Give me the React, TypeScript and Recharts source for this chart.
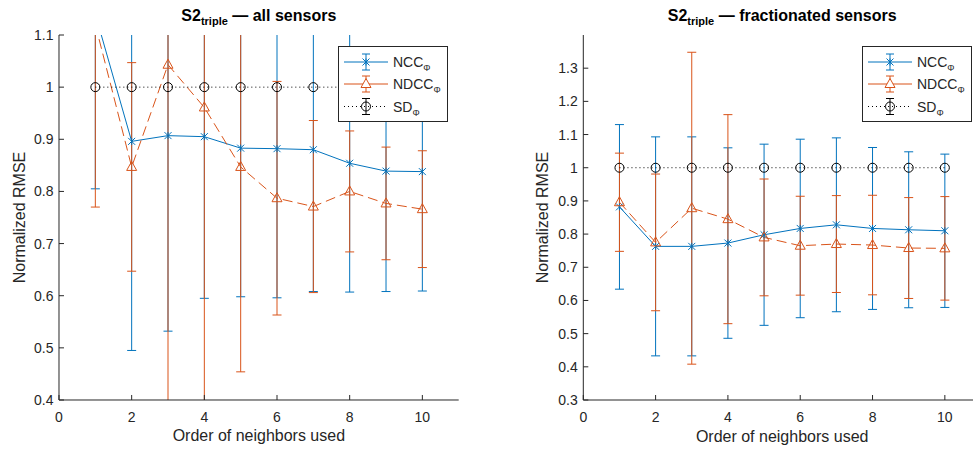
import React from 'react';
import { ComposedChart, Line, XAxis, YAxis, ErrorBar } from 'recharts';

const BLUE = '#0072BD';
const ORANGE = '#D95319';
const INK = '#262626';
const FONT = '"Liberation Sans", Arial, Helvetica, sans-serif';

const orders = [1, 2, 3, 4, 5, 6, 7, 8, 9, 10];
const xTicks = [0, 2, 4, 6, 8, 10];

// S2 triple - all sensors (value and +/- std)
const allNcc = [1.14, 0.896, 0.907, 0.905, 0.883, 0.882, 0.88, 0.854, 0.839, 0.838];
const allNccStd = [0.335, 0.401, 0.375, 0.31, 0.285, 0.286, 0.272, 0.247, 0.231, 0.229];
const allNdcc = [1.12, 0.847, 1.043, 0.961, 0.847, 0.787, 0.771, 0.8, 0.777, 0.766];
const allNdccStd = [0.35, 0.2, 0.7, 0.6, 0.393, 0.224, 0.165, 0.116, 0.108, 0.112];
const allSd = [1, 1, 1, 1, 1, 1, 1, 1, 1, 1];
const allSdStd = [0, 0, 0, 0, 0, 0, 0, 0, 0, 0];
const allYTicks = [0.4, 0.5, 0.6, 0.7, 0.8, 0.9, 1, 1.1];

// S2 triple - fractionated sensors
const fracNcc = [0.882, 0.763, 0.763, 0.773, 0.798, 0.817, 0.828, 0.817, 0.813, 0.81];
const fracNccStd = [0.248, 0.33, 0.33, 0.287, 0.273, 0.269, 0.262, 0.244, 0.235, 0.231];
const fracNdcc = [0.896, 0.775, 0.878, 0.845, 0.79, 0.765, 0.77, 0.767, 0.758, 0.757];
const fracNdccStd = [0.148, 0.206, 0.47, 0.315, 0.176, 0.149, 0.146, 0.15, 0.152, 0.156];
const fracSd = [1, 1, 1, 1, 1, 1, 1, 1, 1, 1];
const fracSdStd = [0, 0, 0, 0, 0, 0, 0, 0, 0, 0];
const fracYTicks = [0.3, 0.4, 0.5, 0.6, 0.7, 0.8, 0.9, 1, 1.1, 1.2, 1.3];

const buildRows = (
  ncc: number[],
  nccStd: number[],
  ndcc: number[],
  ndccStd: number[],
  sd: number[],
  sdStd: number[],
) =>
  orders.map((order, i) => ({
    order,
    ncc: ncc[i],
    nccStd: nccStd[i],
    ndcc: ndcc[i],
    ndccStd: ndccStd[i],
    sd: sd[i],
    sdStd: sdStd[i],
  }));

const allRows = buildRows(allNcc, allNccStd, allNdcc, allNdccStd, allSd, allSdStd);
const fracRows = buildRows(fracNcc, fracNccStd, fracNdcc, fracNdccStd, fracSd, fracSdStd);

const starPath = (cx: number, cy: number, s = 3.5) =>
  `M${cx - s},${cy - s}L${cx + s},${cy + s}M${cx - s},${cy + s}L${cx + s},${cy - s}M${cx},${cy - s}L${cx},${cy + s}`;
const triPath = (cx: number, cy: number) =>
  `M${cx},${cy - 5.5}L${cx + 5},${cy + 3.5}L${cx - 5},${cy + 3.5}Z`;

const StarDot = (p: any) => {
  if (p.cx == null || p.cy == null) return <g key={p.index} />;
  return <path key={p.index} d={starPath(p.cx, p.cy)} stroke={BLUE} fill="none" />;
};
const TriDot = (p: any) => {
  if (p.cx == null || p.cy == null) return <g key={p.index} />;
  return <path key={p.index} d={triPath(p.cx, p.cy)} stroke={ORANGE} fill="none" />;
};
const CircleDot = (p: any) => {
  if (p.cx == null || p.cy == null) return <g key={p.index} />;
  return <circle key={p.index} cx={p.cx} cy={p.cy} r={4.5} stroke="#000" fill="none" />;
};

const yLabel = (gap: number) => (props: any) => {
  const vb = props.viewBox;
  const cx = vb.x + vb.width - gap;
  const cy = vb.y + vb.height / 2;
  return (
    <text
      x={cx}
      y={cy}
      transform={`rotate(-90 ${cx} ${cy})`}
      textAnchor="middle"
      dominantBaseline="central"
      fill={INK}
      fontSize={16}
      fontFamily={FONT}
    >
      Normalized RMSE
    </text>
  );
};

const xLabel = (props: any) => {
  const vb = props.viewBox;
  return (
    <text x={vb.x + vb.width / 2} y={vb.y + 41.5} textAnchor="middle" fill={INK} fontSize={16} fontFamily={FONT}>
      Order of neighbors used
    </text>
  );
};

const LegendBox = ({ left }: { left: number }) => {
  const items = [
    { name: 'NCC', color: BLUE, dash: undefined, y: 16, marker: 'star' },
    { name: 'NDCC', color: ORANGE, dash: undefined, y: 38, marker: 'tri' },
    { name: 'SD', color: '#000', dash: '1 3', y: 60.5, marker: 'circle' },
  ];
  return (
    <svg style={{ position: 'absolute', left, top: 46 }} width={110} height={76}>
      <rect x={0.5} y={0.5} width={109} height={75} fill="#fff" stroke={INK} />
      {items.map((it) => (
        <g key={it.name}>
          <line x1={6} x2={50} y1={it.y} y2={it.y} stroke={it.color} strokeDasharray={it.dash} />
          <line x1={28} x2={28} y1={it.y - 8} y2={it.y + 8} stroke={it.color} />
          <line x1={24} x2={32} y1={it.y - 8} y2={it.y - 8} stroke={it.color} />
          <line x1={24} x2={32} y1={it.y + 8} y2={it.y + 8} stroke={it.color} />
          {it.marker === 'star' && <path d={starPath(28, it.y)} stroke={it.color} fill="none" />}
          {it.marker === 'tri' && <path d={triPath(28, it.y)} stroke={it.color} fill="#fff" />}
          {it.marker === 'circle' && <circle cx={28} cy={it.y} r={4.5} stroke={it.color} fill="none" />}
          <text x={55} y={it.y + 5} fill={INK} fontSize={14} fontFamily={FONT}>
            {it.name}
            <tspan fontSize={9} dy={4}>Φ</tspan>
          </text>
        </g>
      ))}
    </svg>
  );
};

type PanelProps = {
  id: string;
  rest: string;
  rows: any[];
  yDomain: [number, number];
  yTicks: number[];
  axisWidth: number;
  plotWidth: number;
  labelGap: number;
  legendLeft: number;
};

const Panel = ({ id, rest, rows, yDomain, yTicks, axisWidth, plotWidth, labelGap, legendLeft }: PanelProps) => {
  const width = axisWidth + plotWidth + 10;
  const tickStyle = { fill: INK, fontSize: 14, fontFamily: FONT };
  const clipId = `errclip-${id}`;
  return (
    <div className={`panel-${id}`} style={{ position: 'relative', width, height: 452 }}>
      {/* error bars are not clipped by recharts, so clip them to the plot box */}
      <style>{`.panel-${id} .recharts-errorBars, .panel-${id} .recharts-errorBar { clip-path: url(#${clipId}); }`}</style>
      <svg style={{ position: 'absolute', left: 0, top: 0 }} width={0} height={0}>
        <defs>
          <clipPath id={clipId} clipPathUnits="userSpaceOnUse">
            <rect x={axisWidth} y={35} width={plotWidth} height={365} />
          </clipPath>
        </defs>
      </svg>
      <ComposedChart width={width} height={452} data={rows} margin={{ top: 35, right: 10, bottom: 0, left: 0 }}>
        <XAxis
          dataKey="order"
          type="number"
          domain={[0, 11]}
          ticks={xTicks}
          allowDataOverflow
          height={52}
          stroke={INK}
          tickSize={-5}
          tickMargin={17.5}
          tick={tickStyle}
          label={{ content: xLabel }}
        />
        <XAxis
          xAxisId="top"
          orientation="top"
          dataKey="order"
          type="number"
          domain={[0, 11]}
          ticks={xTicks}
          allowDataOverflow
          height={0}
          stroke={INK}
          tickSize={-5}
          tick={false}
        />
        <YAxis
          type="number"
          domain={yDomain}
          ticks={yTicks}
          allowDataOverflow
          width={axisWidth}
          stroke={INK}
          tickSize={-5}
          tickMargin={10.5}
          tick={tickStyle}
          label={{ content: yLabel(labelGap) }}
        />
        <YAxis
          yAxisId="right"
          orientation="right"
          type="number"
          domain={yDomain}
          ticks={yTicks}
          allowDataOverflow
          width={0}
          stroke={INK}
          tickSize={-5}
          tick={false}
        />
        <Line dataKey="ncc" stroke={BLUE} strokeWidth={1} dot={StarDot} activeDot={false} isAnimationActive={false}>
          <ErrorBar dataKey="nccStd" direction="y" width={4.5} stroke={BLUE} strokeWidth={1} />
        </Line>
        <Line
          dataKey="ndcc"
          stroke={ORANGE}
          strokeWidth={1}
          strokeDasharray="10 5"
          dot={TriDot}
          activeDot={false}
          isAnimationActive={false}
        >
          <ErrorBar dataKey="ndccStd" direction="y" width={4.5} stroke={ORANGE} strokeWidth={1} />
        </Line>
        <Line
          dataKey="sd"
          stroke="#000"
          strokeWidth={1}
          strokeDasharray="1 3"
          dot={CircleDot}
          activeDot={false}
          isAnimationActive={false}
        >
          <ErrorBar dataKey="sdStd" direction="y" width={5} stroke="#000" strokeWidth={1} />
        </Line>
      </ComposedChart>
      <svg style={{ position: 'absolute', left: 0, top: 0 }} width={width} height={32}>
        <text
          x={axisWidth + plotWidth / 2}
          y={21}
          textAnchor="middle"
          fill="#000"
          fontSize={16}
          fontWeight="bold"
          fontFamily={FONT}
        >
          S2
          <tspan fontSize={11} dy={4}>triple</tspan>
          <tspan dy={-4}>{` — ${rest}`}</tspan>
        </text>
      </svg>
      <LegendBox left={legendLeft} />
    </div>
  );
};

export default function App() {
  return (
    <div
      style={{
        position: 'absolute',
        left: 0,
        top: 0,
        width: 973,
        height: 452,
        overflow: 'hidden',
        background: '#fff',
        fontFamily: FONT,
      }}
    >
      <div style={{ position: 'absolute', left: 0, top: 0 }}>
        <Panel
          id="all"
          rest="all sensors"
          rows={allRows}
          yDomain={[0.4, 1.1]}
          yTicks={allYTicks}
          axisWidth={59}
          plotWidth={399.7}
          labelGap={39.5}
          legendLeft={338}
        />
      </div>
      <div style={{ position: 'absolute', left: 490, top: 0 }}>
        <Panel
          id="frac"
          rest="fractionated sensors"
          rows={fracRows}
          yDomain={[0.3, 1.4]}
          yTicks={fracYTicks}
          axisWidth={93.3}
          plotWidth={397.7}
          labelGap={40.8}
          legendLeft={372}
        />
      </div>
    </div>
  );
}
